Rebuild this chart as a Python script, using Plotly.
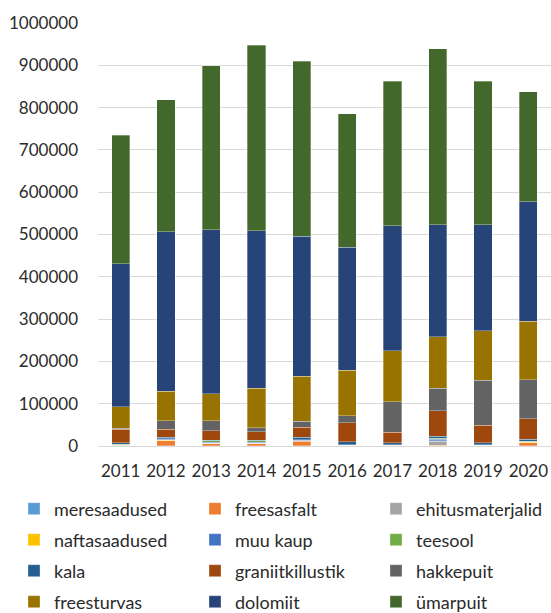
import plotly.graph_objects as go

years = ['2011', '2012', '2013', '2014', '2015', '2016', '2017', '2018', '2019', '2020']

meresaadused = [1000, 1000, 1000, 1000, 500, 500, 1000, 1000, 1000, 300]
freesasfalt = [500, 11000, 4000, 4000, 11000, 500, 300, 500, 300, 7500]
ehitusmaterjalid = [500, 1000, 1000, 1000, 500, 300, 300, 9500, 500, 300]
naftasaadused = [500, 500, 1000, 1000, 500, 200, 200, 1000, 200, 200]
muu_kaup = [1000, 3000, 2000, 2000, 1500, 500, 1000, 4000, 1000, 2000]
teesool = [1000, 1000, 3000, 3000, 500, 500, 200, 2000, 500, 500]
kala = [3000, 3500, 2000, 2000, 6000, 7500, 5000, 5500, 4300, 5700]
graniitkillustik = [32000, 18400, 22000, 19700, 23500, 45000, 25000, 59500, 41000, 48000]
hakkepuit = [2000, 20600, 24000, 9300, 15000, 17000, 72000, 53000, 107000, 92600]
freesturvas = [51000, 70000, 63000, 94000, 106000, 106500, 120000, 122000, 117000, 138000]
dolomiit = [338000, 376000, 388000, 372000, 331000, 291500, 295500, 265000, 250000, 282000]
umarpuit = [304000, 312000, 388000, 438000, 414000, 315000, 341500, 416000, 339000, 260000]

series = [
    ('meresaadused', meresaadused, '#5B9BD5', 'legend'),
    ('freesasfalt', freesasfalt, '#ED7D31', 'legend2'),
    ('ehitusmaterjalid', ehitusmaterjalid, '#A5A5A5', 'legend3'),
    ('naftasaadused', naftasaadused, '#FFC000', 'legend'),
    ('muu kaup', muu_kaup, '#4472C4', 'legend2'),
    ('teesool', teesool, '#70AD47', 'legend3'),
    ('kala', kala, '#255E91', 'legend'),
    ('graniitkillustik', graniitkillustik, '#9E480E', 'legend2'),
    ('hakkepuit', hakkepuit, '#636363', 'legend3'),
    ('freesturvas', freesturvas, '#997300', 'legend'),
    ('dolomiit', dolomiit, '#264478', 'legend2'),
    ('ümarpuit', umarpuit, '#43682B', 'legend3'),
]

FONT = 'Lato'
TXT = '#2b2b2b'

fig = go.Figure()
for name, vals, color, leg in series:
    fig.add_trace(go.Bar(
        x=years, y=vals, name=name, legend=leg, legendgroup=name,
        marker=dict(color=color, line=dict(color='rgba(255,255,255,0.45)', width=0.7)),
    ))

L, T, W, H = 98, 23, 453, 423


def px_x(p):
    return (p - L) / W


def px_y(p):
    return (T + H - p) / H


leg_common = dict(
    orientation='v', xanchor='left', yanchor='top',
    font=dict(family=FONT, size=18, color=TXT),
    bgcolor='rgba(0,0,0,0)', tracegroupgap=4.6, traceorder='grouped',
    itemclick=False, itemdoubleclick=False,
)
legend_top = px_y(490.5)

fig.update_layout(
    width=551, height=613, autosize=False,
    margin=dict(l=L, r=551 - L - W, t=T, b=613 - T - H, autoexpand=False),
    paper_bgcolor='white', plot_bgcolor='white',
    barmode='stack', bargap=0.6,
    font=dict(family=FONT, size=17, color=TXT),
    xaxis=dict(type='category', showgrid=False, showline=False, ticks='',
               tickfont=dict(family=FONT, size=17, color=TXT), ticklabelstandoff=13),
    yaxis=dict(range=[0, 1000000], dtick=100000, tickformat='d',
               showgrid=True, gridcolor='#D9D9D9', gridwidth=1,
               zeroline=True, zerolinecolor='#D9D9D9', zerolinewidth=1,
               showline=False, ticks='',
               tickfont=dict(family=FONT, size=17, color=TXT), ticklabelstandoff=19),
    legend=dict(x=px_x(14), y=legend_top, **leg_common),
    legend2=dict(x=px_x(195), y=legend_top, **leg_common),
    legend3=dict(x=px_x(376), y=legend_top, **leg_common),
)

fig.write_html('out.html', config={'displayModeBar': False},
               post_script="document.body.style.margin='0';document.body.style.overflow='hidden';")
